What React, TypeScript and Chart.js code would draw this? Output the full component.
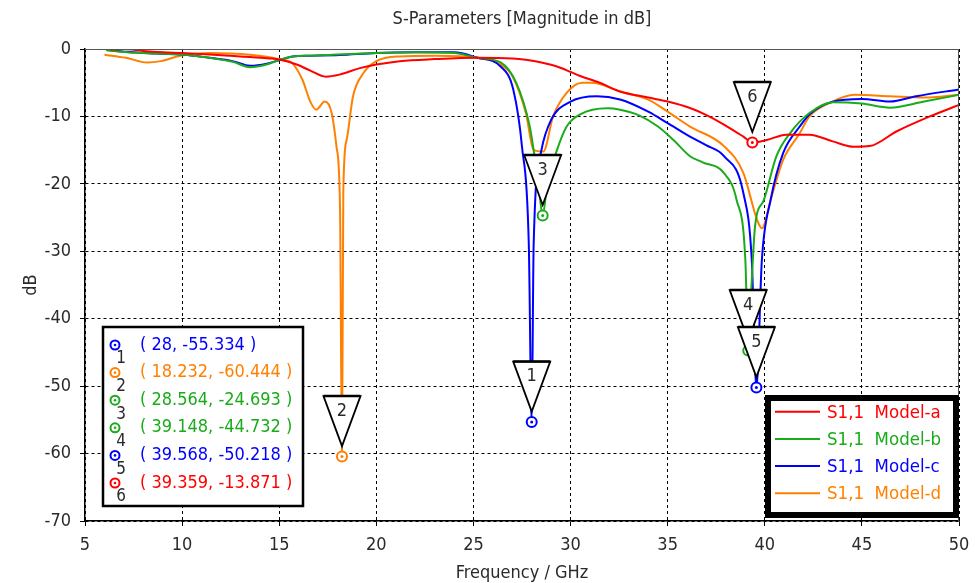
import React, { useEffect, useRef } from 'react';
import { Chart, registerables } from 'chart.js';

Chart.register(...registerables);

// ---- data ----
const freqA = [6.3, 7, 8, 9, 10, 11.4, 12.5, 13.5, 14.5, 15.05, 15.9, 16.6, 17.4, 18.1, 19.2, 20, 21.2, 23, 25.2, 27, 27.7, 28.5, 29.3, 30, 30.5, 31.5, 32.55, 34, 35, 36.15, 37, 37.9, 38.9, 39.359, 40.1, 41.1, 42.3, 43.5, 44.6, 45.4, 46.8, 48.5, 50];
const dbA = [-0.1, 0, -0.3, -0.5, -0.6, -0.8, -1.0, -1.2, -1.4, -1.6, -2.3, -3.2, -4.1, -3.8, -2.8, -2.3, -1.8, -1.5, -1.3, -1.4, -1.6, -2.0, -2.6, -3.4, -4.0, -5.0, -6.3, -7.2, -7.8, -8.75, -9.8, -11.2, -13.0, -13.871, -13.5, -12.7, -12.7, -13.7, -14.5, -14.4, -12.2, -10, -8.3];

const freqB = [6.1, 6.8, 8, 9, 10, 11.4, 12.6, 13.5, 14.35, 15.05, 15.7, 16.6, 18, 20, 22, 24, 25.2, 26.4, 27.2, 27.9, 28.1, 28.35, 28.564, 28.8, 29.3, 29.8, 30.5, 31.9, 32.55, 33.5, 34.5, 35.3, 36.15, 36.8, 37.9, 38.55, 39.0, 39.148, 39.3, 39.5, 39.95, 40.6, 41.3, 42.3, 43.5, 45, 46.45, 48.2, 50];
const dbB = [-0.2, -0.4, -0.6, -0.7, -0.8, -1.3, -1.9, -2.7, -2.3, -1.6, -1.1, -1.0, -0.8, -0.6, -0.5, -0.6, -1.3, -2.0, -5, -11.5, -15, -20, -24.693, -20, -15, -11.5, -9.7, -8.8, -9, -9.8, -11.5, -13.5, -15.9, -16.8, -18.4, -22.4, -31.3, -44.732, -36, -26.3, -22.4, -15.9, -12.5, -9.5, -7.9, -8.1, -8.7, -7.8, -6.8];

const freqC = [6.1, 6.8, 8, 8.9, 10, 11.4, 12.6, 13.5, 14.35, 15.05, 15.7, 16.6, 18.1, 20, 22, 24, 25.2, 26.4, 27.05, 27.5, 27.85, 28, 28.1, 28.5, 29, 30, 31.35, 32.55, 34, 35, 36.15, 37, 37.9, 38.9, 39.33, 39.568, 39.85, 40.3, 40.95, 41.8, 42.3, 43.5, 45, 46.45, 47.8, 50];
const dbC = [-0.1, -0.35, -0.6, -0.7, -0.8, -1.3, -1.8, -2.5, -2.2, -1.6, -1.1, -1.0, -0.9, -0.6, -0.5, -0.5, -1.3, -2.6, -6, -14.5, -29, -55.334, -29, -15, -10.5, -7.8, -7, -7.5, -9.3, -11, -13, -14.3, -15.9, -21.4, -31.3, -50.218, -31.3, -22.4, -15.4, -11.5, -9.7, -7.8, -7.4, -7.8, -7, -6];

const freqD = [6, 7.1, 8.2, 8.9, 9.9, 11.4, 13.5, 15, 15.7, 16.2, 16.6, 16.9, 17.35, 17.7, 17.95, 18.13, 18.232, 18.3, 18.47, 18.8, 19.33, 20, 21.2, 23, 25.2, 26.4, 27, 27.7, 28.1, 28.6, 29.1, 29.8, 30.6, 31.1, 32.55, 34, 35, 36.15, 37.9, 38.9, 39.6, 39.85, 40.3, 40.95, 41.8, 42.3, 43.5, 44.6, 46.45, 48.2, 50];
const dbD = [-0.85, -1.3, -2.0, -1.8, -1.0, -0.6, -0.85, -1.5, -2.2, -4.6, -7.8, -9, -7.8, -9.5, -14.5, -23.4, -60.444, -21, -13.5, -7, -3.6, -1.8, -1.1, -1.0, -1.3, -2.3, -4, -9.5, -15, -15.2, -10, -6.5, -5, -5, -6.3, -7.5, -9.3, -11.5, -14.4, -18.4, -25.3, -26.6, -22.4, -16.4, -12.5, -10, -7.8, -6.8, -7, -7.2, -6.8];

const seriesNames = ['S1,1  Model-a', 'S1,1  Model-b', 'S1,1  Model-c', 'S1,1  Model-d'];
const seriesColors = ['#ff0000', '#1aab1a', '#0000ff', '#ff8000'];

const markerFreq = [28, 18.232, 28.564, 39.148, 39.568, 39.359];
const markerDb = [-55.334, -60.444, -24.693, -44.732, -50.218, -13.871];
const markerSeries = [2, 3, 1, 1, 2, 0];
const markerLabels = ['1', '2', '3', '4', '5', '6'];

const chartTitle = 'S-Parameters [Magnitude in dB]';
const xTitle = 'Frequency / GHz';
const yTitle = 'dB';

const FONT = '"DejaVu Sans Condensed", "DejaVu Sans", sans-serif';
const TEXT = '#2a2a2a';

const toPoints = (fs: number[], ds: number[]) => fs.map((f, i) => ({ x: f, y: ds[i] }));

const overlayPlugin = {
  id: 'overlay',
  afterDatasetsDraw(chart: any) {
    const { ctx, chartArea: a, scales } = chart;
    const xs = scales.x, ys = scales.y;
    ctx.save();
    // frame top / right
    ctx.strokeStyle = '#555';
    ctx.lineWidth = 1;
    ctx.setLineDash([]);
    ctx.beginPath();
    ctx.moveTo(a.left, a.top + 0.5);
    ctx.lineTo(a.right - 0.5, a.top + 0.5);
    ctx.lineTo(a.right - 0.5, a.bottom);
    ctx.stroke();

    // marker circles
    markerFreq.forEach((f, i) => {
      const px = xs.getPixelForValue(f);
      const py = ys.getPixelForValue(markerDb[i]);
      const col = seriesColors[markerSeries[i]];
      ctx.fillStyle = '#fff';
      ctx.strokeStyle = col;
      ctx.lineWidth = 2;
      ctx.beginPath();
      ctx.arc(px, py, 5, 0, Math.PI * 2);
      ctx.fill();
      ctx.stroke();
      ctx.fillStyle = col;
      ctx.beginPath();
      ctx.arc(px, py, 1.5, 0, Math.PI * 2);
      ctx.fill();
    });
    // marker triangles
    markerFreq.forEach((f, i) => {
      const px = xs.getPixelForValue(f);
      const py = ys.getPixelForValue(markerDb[i]);
      const top = py - 60.5;
      const tip = py - 10.5;
      const hw = 18.5;
      ctx.fillStyle = '#fff';
      ctx.strokeStyle = '#000';
      ctx.lineWidth = 1.8;
      ctx.lineJoin = 'miter';
      ctx.beginPath();
      ctx.moveTo(px - hw, top);
      ctx.lineTo(px + hw, top);
      ctx.lineTo(px, tip);
      ctx.closePath();
      ctx.fill();
      ctx.stroke();
      ctx.lineWidth = 2.5;
      ctx.beginPath();
      ctx.moveTo(px - hw, top);
      ctx.lineTo(px + hw, top);
      ctx.stroke();
      ctx.fillStyle = TEXT;
      ctx.font = '18px ' + FONT;
      ctx.textAlign = 'center';
      ctx.textBaseline = 'middle';
      ctx.fillText(markerLabels[i], px, top + 15);
    });

    // marker info box
    const bx = 103, by = 327, bw = 200, bh = 179;
    ctx.fillStyle = '#fff';
    ctx.fillRect(bx, by, bw, bh);
    ctx.strokeStyle = '#000';
    ctx.lineWidth = 2.5;
    ctx.strokeRect(bx, by, bw, bh);
    markerFreq.forEach((f, i) => {
      const ry = 345 + i * 27.6;
      const col = seriesColors[markerSeries[i]];
      ctx.strokeStyle = col;
      ctx.lineWidth = 2;
      ctx.beginPath();
      ctx.arc(115, ry, 4.5, 0, Math.PI * 2);
      ctx.stroke();
      ctx.fillStyle = col;
      ctx.beginPath();
      ctx.arc(115, ry, 1.3, 0, Math.PI * 2);
      ctx.fill();
      ctx.fillStyle = TEXT;
      ctx.font = '17px ' + FONT;
      ctx.textAlign = 'center';
      ctx.textBaseline = 'middle';
      ctx.fillText(markerLabels[i], 121, ry + 14);
      ctx.fillStyle = col;
      ctx.font = '18px ' + FONT;
      ctx.textAlign = 'left';
      ctx.fillText('( ' + f + ', ' + markerDb[i] + ' )', 140, ry);
    });

    // legend box
    ctx.fillStyle = '#fff';
    ctx.fillRect(765, 395, 194, 123);
    ctx.strokeStyle = '#000';
    ctx.lineWidth = 6;
    ctx.strokeRect(768, 398, 188, 117);
    seriesNames.forEach((name, i) => {
      const ry = 411.7 + i * 27.2;
      const col = seriesColors[i];
      ctx.strokeStyle = col;
      ctx.lineWidth = 2;
      ctx.beginPath();
      ctx.moveTo(775, ry);
      ctx.lineTo(820, ry);
      ctx.stroke();
      ctx.fillStyle = col;
      ctx.font = '18.5px ' + FONT;
      ctx.textAlign = 'left';
      ctx.textBaseline = 'middle';
      ctx.fillText(name, 827, ry + 1);
    });
    ctx.restore();
  },
  afterDraw(chart: any) {
    const { ctx, chartArea: a } = chart;
    ctx.save();
    ctx.fillStyle = TEXT;
    ctx.font = '18px ' + FONT;
    ctx.textAlign = 'center';
    ctx.textBaseline = 'middle';
    ctx.fillText(chartTitle, (a.left + a.right) / 2, 19);
    ctx.fillText(xTitle, (a.left + a.right) / 2, 573);
    ctx.translate(31, (a.top + a.bottom) / 2);
    ctx.rotate(-Math.PI / 2);
    ctx.fillText(yTitle, 0, 0);
    ctx.restore();
  },
};

export default function App() {
  const canvasRef = useRef<HTMLCanvasElement | null>(null);

  useEffect(() => {
    const canvas = canvasRef.current;
    if (!canvas) return;
    const mk = (i: number, fs: number[], ds: number[]) => ({
      label: seriesNames[i],
      data: toPoints(fs, ds),
      borderColor: seriesColors[i],
      backgroundColor: seriesColors[i],
      borderWidth: 2,
      pointRadius: 0,
      fill: false,
      cubicInterpolationMode: 'monotone' as const,
    });
    const chart = new Chart(canvas, {
      type: 'line',
      data: {
        datasets: [mk(0, freqA, dbA), mk(1, freqB, dbB), mk(2, freqC, dbC), mk(3, freqD, dbD)],
      },
      options: {
        responsive: false,
        animation: false,
        parsing: true,
        layout: { padding: { left: 0, right: 16, top: 49, bottom: 0 } },
        plugins: {
          legend: { display: false },
          tooltip: { enabled: false },
          title: { display: false },
        },
        scales: {
          x: {
            type: 'linear',
            min: 5,
            max: 50,
            afterFit: (s: any) => { s.height = 62; s.paddingLeft = 0; s.paddingRight = 0; },
            ticks: {
              stepSize: 5,
              color: TEXT,
              font: { family: FONT, size: 18 },
              padding: 9,
              maxRotation: 0,
            },
            grid: { color: '#000', lineWidth: 1, tickLength: 5, tickColor: '#000', drawTicks: true },
            border: { display: true, color: '#000', width: 1.5, dash: [3, 3] },
          },
          y: {
            type: 'linear',
            min: -70,
            max: 0,
            afterFit: (s: any) => { s.width = 85; s.paddingTop = 0; s.paddingBottom = 0; },
            ticks: {
              stepSize: 10,
              color: TEXT,
              font: { family: FONT, size: 18 },
              padding: 9,
            },
            grid: { color: '#000', lineWidth: 1, tickLength: 5, tickColor: '#000', drawTicks: true },
            border: { display: true, color: '#000', width: 1.5, dash: [3, 3] },
          },
        },
      },
      plugins: [overlayPlugin],
    });
    return () => chart.destroy();
  }, []);

  return (
    <div style={{ position: 'absolute', left: 0, top: 0, width: 975, height: 583, background: '#fff' }}>
      <canvas ref={canvasRef} width={975} height={583} style={{ display: 'block' }} />
    </div>
  );
}
